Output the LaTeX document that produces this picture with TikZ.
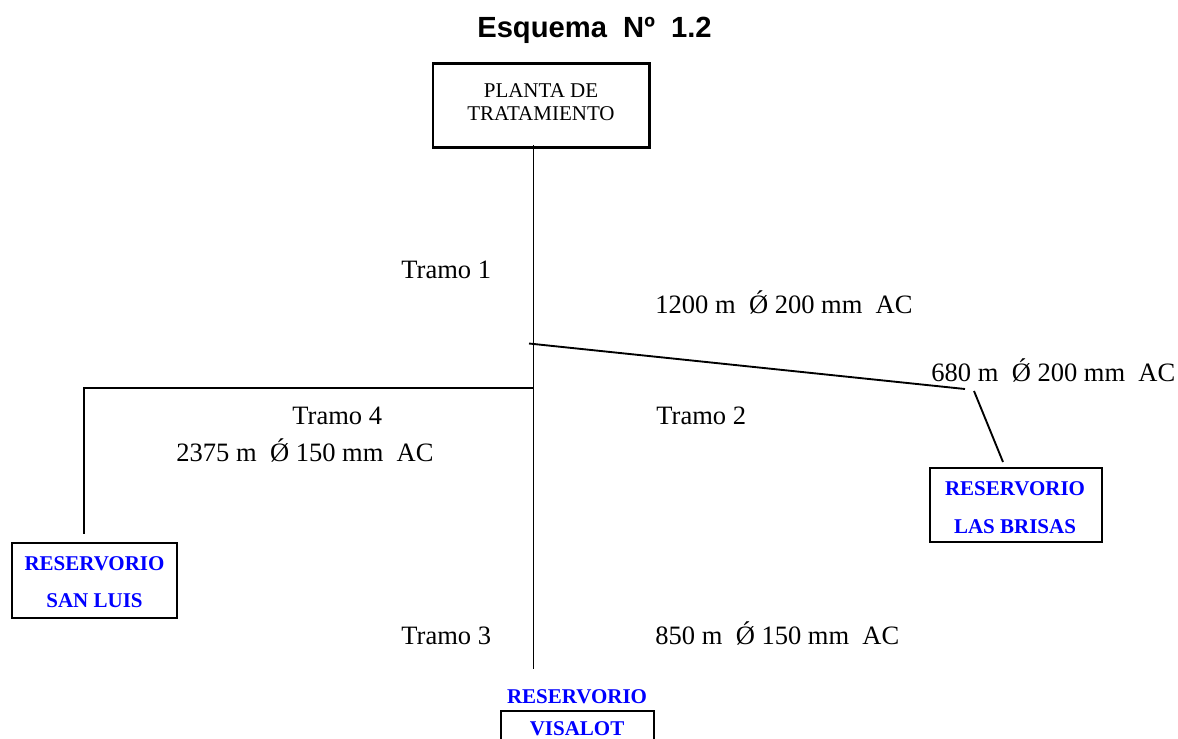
\documentclass[tikz,border=0pt]{standalone}
\usepackage{fontspec}
\setmainfont{Liberation Serif}
\newfontfamily\titlefont{Liberation Sans}
\begin{document}
\begin{tikzpicture}[x=0.4525pt,y=-0.4525pt,
  frame/.style={draw, line width=1.1pt, inner sep=0pt, rectangle},
  pipe/.style={line width=0.85pt},
  lbl/.style={anchor=base west, inner sep=0pt, font=\fontsize{12}{14}\selectfont},
  boxtxt/.style={anchor=base, inner sep=0pt, font=\fontsize{9.5}{11}\selectfont},
  restxt/.style={anchor=base, inner sep=0pt, font=\fontsize{9.5}{11}\selectfont\bfseries, text=blue}]
\useasboundingbox (0,0) rectangle (1178,738);
\begin{scope}
\clip (0,0) rectangle (1178,738);
% title
\node[anchor=base, inner sep=0pt, font=\titlefont\fontsize{13.2}{15}\selectfont\bfseries] (title) at (594.5,37) {Esquema\ \ Nº\ \ 1.2};
% boxes
\node[frame, minimum width=98pt, minimum height=38pt] (planta) at (541,105.3) {};
\node[boxtxt] (pl1) at (541,97) {PLANTA DE};
\node[boxtxt] (pl2) at (541,120) {TRATAMIENTO};
\node[frame, minimum width=74.7pt, minimum height=33.9pt] (sanluis) at (94.5,580.5) {};
\node[restxt] (sl1) at (94.5,570) {RESERVORIO};
\node[restxt] (sl2) at (94.5,607) {SAN LUIS};
\node[frame, minimum width=77.8pt, minimum height=33.5pt] (brisas) at (1016,505) {};
\node[restxt] (lb1) at (1015,495) {RESERVORIO};
\node[restxt] (lb2) at (1015,533) {LAS BRISAS};
\node[frame, minimum width=69.2pt, minimum height=22.2pt] (visalot) at (577.5,735.5) {};
\node[restxt] (vs1) at (577,703) {RESERVORIO};
\node[restxt] (vs2) at (577,735) {VISALOT};
% connector points
\coordinate (v0) at (533.5,145);
\coordinate (v1) at (533.5,669);
\coordinate (j1) at (529,343.5);
\coordinate (r1) at (965,389);
\coordinate (r2) at (974,391);
\coordinate (r3) at (1003,462);
\coordinate (j2) at (533.5,388);
\coordinate (l1) at (84,388);
\coordinate (l2) at (84,534);
% connectors
\draw[pipe] (v0) -- (v1);
\draw[pipe] (j1) -- (r1);
\draw[pipe] (r2) -- (r3);
\draw[pipe] (j2) -- (l1) -- (l2);
% labels
\node[lbl] (t1) at (401,278) {Tramo 1};
\node[lbl] (d1) at (655,313) {1200 m\ \ Ǿ 200 mm\ \ AC};
\node[lbl] (d2) at (931,381) {680 m\ \ Ǿ 200 mm\ \ AC};
\node[lbl] (t4) at (292,424) {Tramo 4};
\node[lbl] (d4) at (176,461) {2375 m\ \ Ǿ 150 mm\ \ AC};
\node[lbl] (t2) at (656,424) {Tramo 2};
\node[lbl] (t3) at (401,644) {Tramo 3};
\node[lbl] (d3) at (655,644) {850 m\ \ Ǿ 150 mm\ \ AC};
\end{scope}
\end{tikzpicture}
\end{document}
